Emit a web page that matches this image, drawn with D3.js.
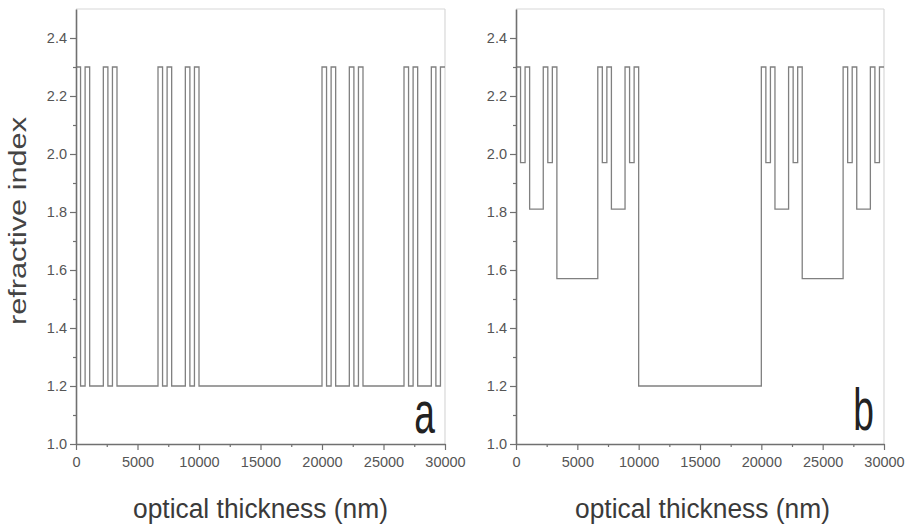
<!DOCTYPE html>
<html>
<head>
<meta charset="utf-8">
<script src="https://cdn.jsdelivr.net/npm/d3@7"></script>
<style>
  html, body { margin: 0; padding: 0; background: #fff; }
  svg { display: block; }
</style>
</head>
<body>
<svg id="chart" width="907" height="527"></svg>
<script>
// ---- data ----
// layer boundaries (optical thickness, nm): start of each layer
const layerStarts = [0, 370, 741, 1111, 2222, 2593, 2963, 3333, 6667, 7037, 7407, 7778,
  8889, 9259, 9630, 10000, 20000, 20370, 20741, 21111, 22222, 22593, 22963, 23333,
  26667, 27037, 27407, 27778, 28889, 29259, 29630];
const stackEnd = 30000;
// refractive index of each layer, panel a (two-material stack)
const indexA = [2.3, 1.2, 2.3, 1.2, 2.3, 1.2, 2.3, 1.2, 2.3, 1.2, 2.3, 1.2,
  2.3, 1.2, 2.3, 1.2, 2.3, 1.2, 2.3, 1.2, 2.3, 1.2, 2.3, 1.2,
  2.3, 1.2, 2.3, 1.2, 2.3, 1.2, 2.3];
// refractive index of each layer, panel b (graded levels)
const indexB = [2.3, 1.97, 2.3, 1.81, 2.3, 1.97, 2.3, 1.57, 2.3, 1.97, 2.3, 1.81,
  2.3, 1.97, 2.3, 1.2, 2.3, 1.97, 2.3, 1.81, 2.3, 1.97, 2.3, 1.57,
  2.3, 1.97, 2.3, 1.81, 2.3, 1.97, 2.3];
const xMajorTicks = [0, 5000, 10000, 15000, 20000, 25000, 30000];
const xMinorTicks = [2500, 7500, 12500, 17500, 22500, 27500];
const yMajorTicks = [1.0, 1.2, 1.4, 1.6, 1.8, 2.0, 2.2, 2.4];
const yMinorTicks = [1.1, 1.3, 1.5, 1.7, 1.9, 2.1, 2.3];
const panelLetters = ["a", "b"];
const xTitle = "optical thickness (nm)";
const yTitle = "refractive index";

// ---- layout ----
const svg = d3.select("#chart");
const plotTop = 9, plotBottom = 444;
const panels = [
  { left: 76, right: 445, values: indexA, letter: panelLetters[0], titleX: 133, letterY: 433 },
  { left: 516, right: 884, values: indexB, letter: panelLetters[1], titleX: 575, letterY: 430 }
];
const y = d3.scaleLinear().domain([1.0, 2.5]).range([plotBottom, plotTop]);
const fontFam = "'Liberation Sans', Arial, Helvetica, sans-serif";
const axisCol = "#707070";
const textCol = "#555";

panels.forEach(p => {
  const x = d3.scaleLinear().domain([0, 30000]).range([p.left, p.right]);
  const g = svg.append("g");

  // frame (top / right)
  g.append("line").attr("x1", p.left).attr("x2", p.right).attr("y1", plotTop).attr("y2", plotTop)
    .attr("stroke", "#d8d8d8").attr("stroke-width", 1.2);
  g.append("line").attr("x1", p.right).attr("x2", p.right).attr("y1", plotTop).attr("y2", plotBottom)
    .attr("stroke", "#d8d8d8").attr("stroke-width", 1.2);

  // data step line
  const pts = layerStarts.map((s, i) => [s, p.values[i]]);
  pts.push([stackEnd, p.values[p.values.length - 1]]);
  const line = d3.line().x(d => x(d[0])).y(d => y(d[1])).curve(d3.curveStepAfter);
  g.append("path").datum(pts).attr("d", line)
    .attr("fill", "none").attr("stroke", "#808080").attr("stroke-width", 1.3);

  // x axis
  g.append("g").attr("transform", `translate(0,${plotBottom})`)
    .call(d3.axisBottom(x).tickValues(xMajorTicks).tickSize(6).tickSizeOuter(0).tickPadding(7)
      .tickFormat(d3.format("d")));
  g.append("g").attr("transform", `translate(0,${plotBottom})`)
    .call(d3.axisBottom(x).tickValues(xMinorTicks).tickSize(3).tickSizeOuter(0).tickFormat(""))
    .select(".domain").remove();

  // y axis
  g.append("g").attr("transform", `translate(${p.left},0)`)
    .call(d3.axisLeft(y).tickValues(yMajorTicks).tickSize(6).tickSizeOuter(0).tickPadding(3)
      .tickFormat(d3.format(".1f")));
  g.append("g").attr("transform", `translate(${p.left},0)`)
    .call(d3.axisLeft(y).tickValues(yMinorTicks).tickSize(3).tickSizeOuter(0).tickFormat(""))
    .select(".domain").remove();

  g.selectAll(".domain").attr("stroke", axisCol).attr("stroke-width", 1.6);
  g.selectAll(".tick line").attr("stroke", axisCol).attr("stroke-width", 1.2);
  g.selectAll(".tick text").attr("fill", textCol)
    .style("font-family", fontFam).style("font-size", "14.5px");

  // x title
  g.append("text").attr("x", p.titleX).attr("y", 518)
    .attr("textLength", 255).attr("lengthAdjust", "spacingAndGlyphs")
    .style("font-family", fontFam).style("font-size", "27px").attr("fill", "#3a3a3a")
    .text(xTitle);

  // panel letter
  g.append("text")
    .attr("transform", `translate(${p.right - 10},${p.letterY}) scale(0.62,1)`)
    .attr("text-anchor", "end")
    .style("font-family", fontFam).style("font-size", "60px").attr("fill", "#222")
    .text(p.letter);
});

// y title
svg.append("text")
  .attr("transform", "translate(26,221) rotate(-90)")
  .attr("text-anchor", "middle")
  .attr("textLength", 208).attr("lengthAdjust", "spacingAndGlyphs")
  .style("font-family", fontFam).style("font-size", "23px").attr("fill", "#444")
  .text(yTitle);
</script>
</body>
</html>
